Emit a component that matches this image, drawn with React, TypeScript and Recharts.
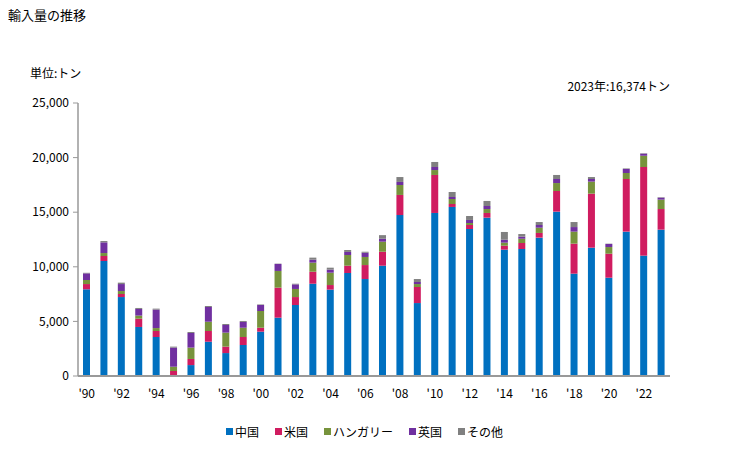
import React from "react";
import { BarChart, Bar, XAxis, YAxis } from "recharts";

const years = [
  1990, 1991, 1992, 1993, 1994, 1995, 1996, 1997, 1998, 1999,
  2000, 2001, 2002, 2003, 2004, 2005, 2006, 2007, 2008, 2009,
  2010, 2011, 2012, 2013, 2014, 2015, 2016, 2017, 2018, 2019,
  2020, 2021, 2022, 2023,
];
const china = [
  7940, 10530, 7230, 4490, 3570, 90, 1000, 3140, 2100, 2840,
  4060, 5340, 6500, 8450, 7910, 9430, 8880, 10100, 14740, 6680,
  14930, 15480, 13460, 14500, 11570, 11630, 12670, 15050, 9370, 11750,
  9000, 13220, 11020, 13400,
];
const usa = [
  480, 460, 280, 760, 550, 370, 560, 980, 590, 730,
  360, 2750, 730, 1100, 420, 670, 1280, 1280, 1840, 1470,
  3480, 270, 370, 430, 360, 550, 430, 1890, 2750, 4950,
  2200, 4820, 8120, 1890,
];
const hungary = [
  370, 270, 270, 280, 270, 390, 1040, 850, 1280, 850,
  1530, 1530, 740, 830, 1130, 980, 740, 920, 910, 270,
  450, 460, 180, 360, 280, 390, 480, 730, 1100, 1100,
  610, 550, 1030, 860,
];
const uk = [
  610, 980, 640, 610, 1690, 1750, 1340, 1350, 700, 530,
  550, 640, 420, 270, 280, 280, 390, 270, 280, 190,
  280, 180, 280, 280, 270, 190, 250, 370, 420, 240,
  280, 370, 190, 180,
];
const others = [
  50, 120, 130, 90, 90, 90, 90, 90, 90, 90,
  50, 30, 60, 190, 180, 180, 90, 330, 450, 270,
  460, 460, 360, 460, 710, 240, 270, 370, 460, 180,
  30, 50, 40, 44,
];
const yTicks = [0, 5000, 10000, 15000, 20000, 25000];

const seriesNames = ["中国", "米国", "ハンガリー", "英国", "その他"];
const seriesKeys = ["china", "usa", "hungary", "uk", "others"];
const seriesColors = ["#0070c0", "#d01c60", "#77933c", "#7030a0", "#808080"];

const data = years.map((y, i) => ({
  year: y,
  china: china[i],
  usa: usa[i],
  hungary: hungary[i],
  uk: uk[i],
  others: others[i],
}));

const FONT = "'Noto Sans CJK JP', 'Noto Sans', sans-serif";

const fmtX = (v: number) => (v % 2 === 0 ? "'" + String(v).slice(2) : "");
const fmtY = (v: number) => v.toLocaleString("en-US");

export default function App() {
  return (
    <div
      style={{
        position: "absolute",
        left: 0,
        top: 0,
        width: 729,
        height: 450,
        fontFamily: FONT,
        color: "#000",
        background: "#fff",
      }}
    >
      <div style={{ position: "absolute", left: 8, top: 5, fontSize: 13 }}>輸入量の推移</div>
      <div style={{ position: "absolute", left: 30, top: 64, fontSize: 12 }}>単位:トン</div>
      <div style={{ position: "absolute", right: 59, top: 77, fontSize: 12 }}>2023年:16,374トン</div>
      <BarChart
        width={729}
        height={450}
        data={data}
        margin={{ top: 103, right: 59, bottom: 0, left: 0 }}
        barSize={7}
      >
        <XAxis
          dataKey="year"
          interval={0}
          tickFormatter={fmtX}
          tickLine={false}
          tickSize={6}
          tickMargin={7}
          height={74}
          axisLine={{ stroke: "#999", strokeWidth: 2 }}
          tick={{ fontSize: 12, fill: "#000", fontFamily: FONT }}
        />
        <XAxis
          xAxisId="top"
          dataKey="year"
          orientation="top"
          height={0}
          tick={false}
          tickLine={false}
          axisLine={{ stroke: "#c8c09a", strokeWidth: 1.5 }}
        />
        <YAxis
          domain={[0, 25000]}
          ticks={yTicks}
          tickFormatter={fmtY}
          width={78}
          tickSize={5}
          tickMargin={4}
          axisLine={{ stroke: "#999", strokeWidth: 1.5 }}
          tickLine={{ stroke: "#999" }}
          tick={{ fontSize: 12, fill: "#000", fontFamily: FONT }}
        />
        <YAxis
          yAxisId="right"
          orientation="right"
          width={0}
          tick={false}
          tickLine={false}
          axisLine={{ stroke: "#c8c09a", strokeWidth: 1.5 }}
        />
        {seriesKeys.map((k, i) => (
          <Bar
            key={k}
            dataKey={k}
            name={seriesNames[i]}
            stackId="a"
            fill={seriesColors[i]}
            isAnimationActive={false}
          />
        ))}
      </BarChart>
      <div
        style={{
          position: "absolute",
          left: 0,
          top: 423,
          width: 729,
          display: "flex",
          justifyContent: "center",
          fontSize: 12,
          gap: 16,
          paddingLeft: 0,
        }}
      >
        {seriesNames.map((n, i) => (
          <div key={n} style={{ display: "flex", alignItems: "center" }}>
            <span
              style={{
                display: "inline-block",
                width: 7,
                height: 7,
                background: seriesColors[i],
                marginRight: 2,
              }}
            />
            <span>{n}</span>
          </div>
        ))}
      </div>
    </div>
  );
}
